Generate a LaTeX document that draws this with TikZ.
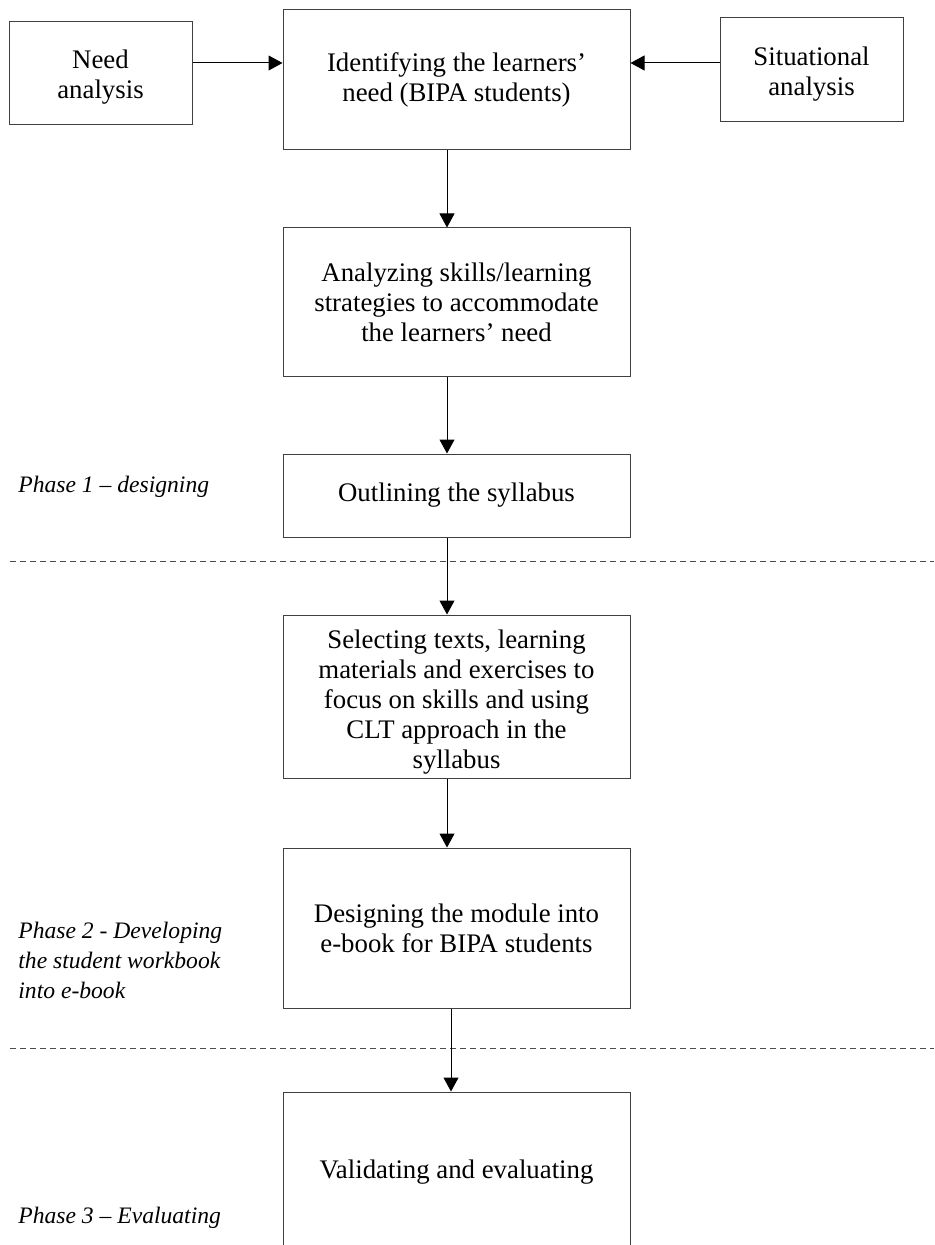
\documentclass[tikz,border=0pt]{standalone}
\usepackage{fontspec}
\setmainfont{Liberation Serif}
\usetikzlibrary{arrows.meta}
\begin{document}
\begin{tikzpicture}[x=0.5pt,y=-0.5pt,
  box/.style={draw=black!75, line width=0.5pt, fill=white, align=center, inner sep=0pt,
    font=\fontsize{13.4}{15}\selectfont},
  arr/.style={-{Triangle[length=7pt,width=7.5pt]}, line width=0.5pt, draw=black},
  phase/.style={anchor=west, align=left, inner sep=0pt, font=\fontsize{11.8}{15}\selectfont\itshape},
  sep/.style={dash pattern=on 3pt off 2pt, line width=0.5pt, draw=black!70}]
\clip (0,0) rectangle (934,1245);
\fill[white] (0,0) rectangle (934,1245);
% separators
\coordinate (d1l) at (10,561);  \coordinate (d1r) at (934,561);
\coordinate (d2l) at (10,1048); \coordinate (d2r) at (934,1048);
\draw[sep] (d1l) -- (d1r);
\draw[sep] (d2l) -- (d2r);
% boxes
\node[box, minimum width=91.5pt, minimum height=51.5pt] (need) at (100.5,73.5) {\raisebox{-2pt}[\height][\depth]{\begin{tabular}{@{}c@{}}Need\\analysis\end{tabular}}};
\node[box, minimum width=173.5pt, minimum height=70pt] (ident) at (456.5,80) {Identifying the learners’\\need (BIPA students)};
\node[box, minimum width=91.5pt, minimum height=52pt] (sit) at (811.5,70) {\raisebox{-2.5pt}[\height][\depth]{\begin{tabular}{@{}c@{}}Situational\\analysis\end{tabular}}};
\node[box, minimum width=173.5pt, minimum height=74.5pt] (analyz) at (456.5,302.5) {Analyzing skills/learning\\strategies to accommodate\\the learners’ need};
\node[box, minimum width=173.5pt, minimum height=41.5pt] (outline) at (456.5,495.5) {Outlining the syllabus};
\node[box, minimum width=173.5pt, minimum height=81.5pt] (select) at (456.5,696.5) {\raisebox{-3pt}[\height][\depth]{\begin{tabular}{@{}c@{}}Selecting texts, learning\\materials and exercises to\\focus on skills and using\\CLT approach in the\\syllabus\end{tabular}}};
\node[box, minimum width=173.5pt, minimum height=80pt] (design) at (456.5,928) {Designing the module into\\e-book for BIPA students};
\node[box, minimum width=173.5pt, minimum height=80pt] (valid) at (456.5,1172) {Validating and evaluating};
% phase labels
\node[phase] (p1) at (18,487) {Phase 1 – designing};
\node[phase] (p2) at (18,960) {Phase 2 - Developing\\the student workbook\\into e-book};
\node[phase] (p3) at (18,1218) {Phase 3 – Evaluating};
% connectors
\coordinate (ya) at (0,63);
\coordinate (xa) at (447,0);
\coordinate (xb) at (451,0);
\draw[arr] (need.east |- ya) -- (ident.west |- ya);
\draw[arr] (sit.west |- ya) -- (ident.east |- ya);
\draw[arr] (ident.south -| xa) -- (analyz.north -| xa);
\draw[arr] (analyz.south -| xa) -- (outline.north -| xa);
\draw[arr] (outline.south -| xa) -- (select.north -| xa);
\draw[arr] (select.south -| xa) -- (design.north -| xa);
\draw[arr] (design.south -| xb) -- (valid.north -| xb);
\end{tikzpicture}
\end{document}
